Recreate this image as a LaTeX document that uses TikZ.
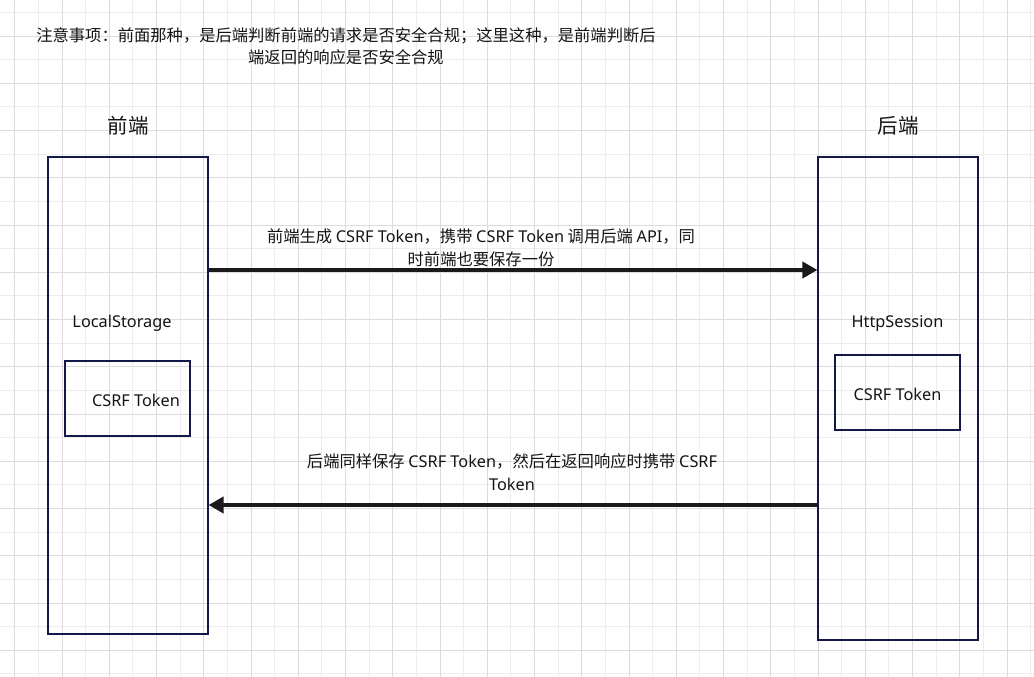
\documentclass[tikz,border=0pt]{standalone}
\usepackage{fontspec}
\setmainfont{Noto Sans CJK SC}
\newfontfamily\latinfont{Noto Sans}
\newcommand\la[1]{{\latinfont #1}}
\usetikzlibrary{arrows.meta}
\definecolor{navy}{RGB}{20,24,72}
\definecolor{gmaj}{RGB}{220,220,220}
\definecolor{gmin}{RGB}{237,237,237}
\definecolor{arrowc}{RGB}{26,26,26}
\definecolor{txt}{RGB}{20,20,20}
\begin{document}
\begin{tikzpicture}[x=1pt,y=-1pt,
  every node/.style={font=\fontsize{16.3}{22.5}\selectfont, text=txt, inner sep=0pt},
  box/.style={draw=navy, line width=1.1pt},
  title/.style={font=\fontsize{20.5}{24}\selectfont},
  arr/.style={draw=arrowc, line width=4.6pt, -{Triangle[length=15pt,width=16pt]}},
  lbl/.style={align=center}]
\useasboundingbox (0,0) rectangle (1034,677);
\fill[white] (0,0) rectangle (1034,677);
% grid
\foreach \k in {1,3,...,43} \draw[gmin,line width=1pt] ({14.75+23.625*\k},0) -- ++(0,677);
\foreach \k in {0,2,...,28} \draw[gmin,line width=1pt] (0,{12.4+23.625*\k}) -- ++(1034,0);
\foreach \k in {0,2,...,42} \draw[gmaj,line width=1pt] ({14.75+23.625*\k},0) -- ++(0,677);
\foreach \k in {1,3,...,27} \draw[gmaj,line width=1pt] (0,{12.4+23.625*\k}) -- ++(1034,0);
% note
\node[lbl] (note) at (346,46.5) {注意事项：前面那种，是后端判断前端的请求是否安全合规；这里这种，是前端判断后\\端返回的响应是否安全合规};
% titles
\node[title] (fe) at (128,126) {前端};
\node[title] (be) at (898,126) {后端};
% big boxes
\node[box, minimum width=160pt, minimum height=477pt] (lbox) at (128,395.5) {};
\node[box, minimum width=160pt, minimum height=483pt] (rbox) at (898,398.5) {};
% storage labels
\node (ls) at (122,323.5) {\la{LocalStorage}};
\node (hs) at (897.5,323.5) {\la{HttpSession}};
% small boxes
\node[box, minimum width=125pt, minimum height=75pt] (lsmall) at (127.5,398.5) {};
\node[box, minimum width=125pt, minimum height=75pt] (rsmall) at (897.5,392.5) {};
\node (ltok) at (136,400) {\la{CSRF Token}};
\node (rtok) at (897.5,394) {\la{CSRF Token}};
% arrows
\draw[arr] (lbox.east |- 0,270) -- (rbox.west |- 0,270);
\draw[arr] (rbox.west |- 0,505) -- (lbox.east |- 0,505);
% arrow labels
\node[lbl] (l1) at (481,248) {前端生成 \la{CSRF Token}，携带 \la{CSRF Token} 调用后端 \la{API}，同\\时前端也要保存一份};
\node[lbl] (l2) at (512,472) {后端同样保存 \la{CSRF Token}，然后在返回响应时携带 \la{CSRF}\\\la{Token}};
\end{tikzpicture}
\end{document}
